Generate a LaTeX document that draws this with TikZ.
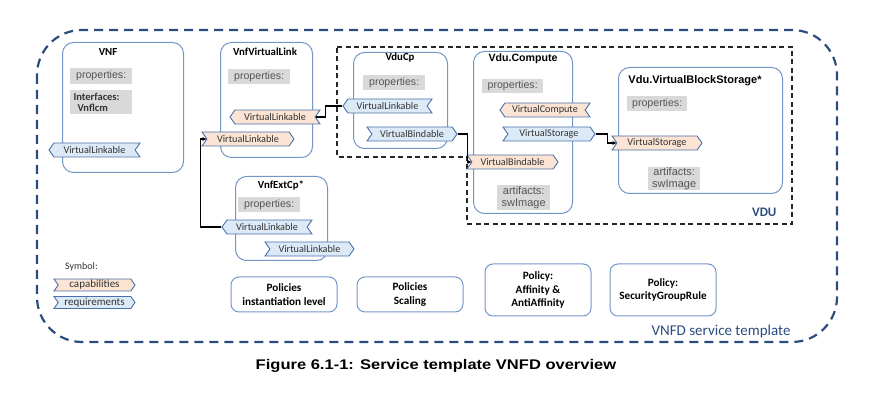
\documentclass[tikz,border=0pt]{standalone}
\usepackage{fontspec}
\setmainfont{Carlito}
\newfontfamily\arialf{Liberation Sans}
\usetikzlibrary{shapes.symbols,arrows.meta,calc}
\definecolor{boxblue}{HTML}{7396C8}
\definecolor{ribblue}{HTML}{4A70AA}
\definecolor{reqfill}{HTML}{DCEAF7}
\definecolor{capfill}{HTML}{FBE4D3}
\definecolor{graybg}{HTML}{D9D9D9}
\definecolor{graytxt}{HTML}{555555}
\definecolor{navy}{HTML}{2C4C7E}
\tikzset{
  box/.style={draw=boxblue, line width=1pt, rounded corners=11pt, inner sep=0pt},
  ttl/.style={font=\fontsize{10.8}{11}\selectfont\bfseries, inner sep=0pt},
  gbox/.style={fill=graybg, text=graytxt, inner sep=0pt, font=\arialf\fontsize{10.6}{11}\selectfont},
  rib/.style={signal, draw=ribblue, line width=0.9pt, font=\fontsize{10.2}{11}\selectfont, text=black!80, minimum height=14pt, inner sep=0pt, signal pointer angle=110},
  reqrib/.style={rib, fill=reqfill},
  caprib/.style={rib, fill=capfill},
  pL/.style={signal to=west, signal from=east},
  pR/.style={signal to=east, signal from=west},
  wire/.style={line width=1.6pt, black},
  wirea/.style={wire, -{Stealth[length=4pt,width=4pt]}},
  pol/.style={box, rounded corners=8pt, align=center, font=\fontsize{11.2}{13.5}\selectfont\bfseries},
}
\begin{document}
\begin{tikzpicture}[x=1pt,y=-1pt]
\useasboundingbox (0,0) rectangle (870,403);
% outer template
\draw[navy, line width=2.2pt, dash pattern=on 9pt off 6pt, rounded corners=45pt] (37,30) rectangle (837,342);
\node[font=\fontsize{15}{16}\selectfont, text=navy, anchor=east] (tpl) at (794,332) {VNFD service template};
% VDU region
\draw[black!85, line width=1.3pt, dash pattern=on 5pt off 3.5pt] (337,47) -- (792,47) -- (792,224) -- (467,224) -- (467,157) -- (337,157) -- cycle;
\node[font=\fontsize{13}{14}\selectfont\bfseries, text=navy, anchor=east] (vdul) at (780,212) {VDU};

% VNF
\node[box, minimum width=121pt, minimum height=130pt, anchor=north west] (vnf) at (62,42) {};
\node[ttl] (vnft) at (108,52) {VNF};
\node[gbox, minimum width=62pt, minimum height=16pt, anchor=north west] (vnfp) at (70,68) {properties:};
\node[gbox, minimum width=62pt, minimum height=24pt, anchor=north west, align=left, text=black!80, font=\fontsize{10.5}{11}\selectfont\bfseries] (vnfi) at (70,90) {\hspace*{-9pt}Interfaces:\\[-0.5pt]\hspace*{-5pt}Vnflcm\hspace*{12pt}};
\node[reqrib, pL, minimum width=91pt] (vnfr) at (94.5,150) {VirtualLinkable};

% VnfVirtualLink
\node[box, minimum width=92pt, minimum height=115pt, anchor=north west] (vvl) at (220,42) {};
\node[ttl] (vvlt) at (265,52) {VnfVirtualLink};
\node[gbox, minimum width=62pt, minimum height=15pt, anchor=north west] (vvlp) at (228,69) {properties:};
\node[caprib, pL, minimum width=90pt] (vvl1) at (275,117) {VirtualLinkable};
\node[caprib, pR, minimum width=92pt] (vvl2) at (248,139) {VirtualLinkable};

% VduCp
\node[box, minimum width=94pt, minimum height=96pt, anchor=north west] (vcp) at (353,52) {};
\node[ttl] (vcpt) at (400,58) {VduCp};
\node[gbox, minimum width=62pt, minimum height=15pt, anchor=north west] (vcpp) at (363,75) {properties:};
\node[reqrib, pL, minimum width=89pt] (vcp1) at (387.5,106) {VirtualLinkable};
\node[reqrib, pR, minimum width=90pt] (vcp2) at (412,134) {VirtualBindable};

% Vdu.Compute
\node[box, minimum width=99pt, minimum height=162pt, anchor=north west] (vc) at (473,51) {};
\node[ttl, font=\arialf\fontsize{10.6}{11}\selectfont\bfseries] (vct) at (523,59) {Vdu.Compute};
\node[gbox, minimum width=61pt, minimum height=14pt, anchor=north west] (vcpr) at (482,79) {properties:};
\node[caprib, pL, minimum width=90pt] (vcc) at (545,110) {VirtualCompute};
\node[reqrib, pR, minimum width=92pt] (vcs) at (549,134) {VirtualStorage};
\node[caprib, pR, minimum width=91pt] (vcb) at (512.5,162) {VirtualBindable};
\node[gbox, minimum width=53pt, minimum height=25pt, anchor=north west, align=center, font=\arialf\fontsize{11}{11.5}\selectfont] (vca) at (497,185) {artifacts:\\ swImage};

% Vdu.VirtualBlockStorage
\node[box, minimum width=164pt, minimum height=126pt, anchor=north west] (vbs) at (618,67) {};
\node[ttl, font=\arialf\fontsize{11}{11}\selectfont\bfseries] (vbst) at (695,81) {Vdu.VirtualBlockStorage*};
\node[gbox, minimum width=60pt, minimum height=15pt, anchor=north west] (vbsp) at (627,96) {properties:};
\node[caprib, pR, minimum width=90pt] (vbsr) at (657,143) {VirtualStorage};
\node[gbox, minimum width=52pt, minimum height=23pt, anchor=north west, align=center, font=\arialf\fontsize{11}{11.5}\selectfont] (vbsa) at (648,167) {artifacts:\\ swImage};

% VnfExtCp
\node[box, minimum width=92pt, minimum height=84pt, anchor=north west] (ext) at (235,176) {};
\node[ttl] (extt) at (281,185) {VnfExtCp*};
\node[gbox, minimum width=62pt, minimum height=15pt, anchor=north west] (extp) at (238,197) {properties:};
\node[reqrib, pL, minimum width=90pt] (ext1) at (267,227) {VirtualLinkable};
\node[reqrib, pR, minimum width=89pt] (ext2) at (309.5,249) {VirtualLinkable};

% legend
\node[anchor=west, font=\fontsize{10}{11}\selectfont, text=black!80, inner sep=0pt] (sym) at (65,267) {Symbol:};
\node[caprib, pR, minimum width=81pt, minimum height=12pt, font=\fontsize{11}{11}\selectfont] (lcap) at (94.5,285) {capabilities};
\node[reqrib, pR, minimum width=81pt, minimum height=12pt, font=\fontsize{11}{11}\selectfont] (lreq) at (94.5,302.5) {requirements};

% policies
\node[pol, minimum width=106pt, minimum height=35pt] (p1) at (284,294.5) {Policies\\instantiation level};
\node[pol, minimum width=106pt, minimum height=35pt] (p2) at (410,294.5) {Policies\\Scaling};
\node[pol, minimum width=106pt, minimum height=52pt] (p3) at (538,290) {Policy:\\Affinity \&\\AntiAffinity};
\node[pol, minimum width=106pt, minimum height=52pt] (p4) at (663,290) {Policy:\\SecurityGroupRule};

% connectors
\draw[wirea] (ext1.west) -- ++(-21,0) |- (vvl2.west);
\draw[wire] (vvl1.east) -- ++(10,0) |- (vcp1.west);
\draw[wirea] (vcp2.east) -- ++(10,0) |- (vcb.west);
\draw[wirea] (vcs.east) -- ++(12,0) |- (vbsr.west);

% caption
\node[font=\arialf\fontsize{14}{15}\selectfont\bfseries] (figcap) at (436,366) {\scalebox{1.18}[1]{Figure 6.1-1: Service template VNFD overview}};
\end{tikzpicture}
\end{document}
